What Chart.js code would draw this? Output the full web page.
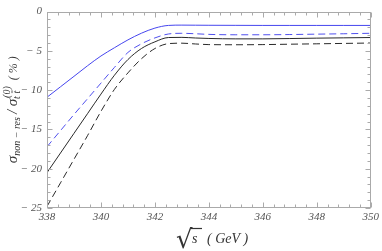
<!DOCTYPE html>
<html>
<head>
<meta charset="utf-8">
<script src="https://cdn.jsdelivr.net/npm/chart.js@4.4.1/dist/chart.umd.min.js"></script>
<style>
  html, body { margin: 0; padding: 0; background: #fff; }
  #wrap { position: relative; width: 382px; height: 251px; }
</style>
</head>
<body>
<div id="wrap"><canvas id="c" width="382" height="251"></canvas></div>
<script>
// ---- data ----
const energies   = [338, 338.5, 339, 339.5, 340, 340.5, 341, 341.5, 342, 342.5, 343, 343.5, 344, 345, 346, 347, 348, 349, 350];
const blueSolid  = [-10.9, -9.57, -8.24, -6.9, -5.65, -4.6, -3.6, -2.75, -2.1, -1.76, -1.72, -1.73, -1.74, -1.75, -1.76, -1.76, -1.76, -1.76, -1.76];
const blueDashed = [-17.2, -15.15, -13.1, -11.1, -9.1, -7.1, -5.2, -4.1, -3.35, -2.85, -2.76, -2.82, -2.9, -2.95, -2.95, -2.92, -2.87, -2.82, -2.76];
const blackSolid = [-20.5, -18.0, -15.5, -13.0, -10.5, -8.1, -6.1, -4.7, -3.85, -3.3, -3.28, -3.36, -3.42, -3.47, -3.47, -3.43, -3.38, -3.34, -3.3];
const blackDashed= [-24.8, -21.8, -18.8, -15.8, -12.7, -9.9, -7.8, -6.0, -4.7, -4.08, -4.02, -4.12, -4.2, -4.22, -4.2, -4.15, -4.1, -4.05, -4.0];
const xTicks = [338, 340, 342, 344, 346, 348, 350];
const yTicks = [0, -5, -10, -15, -20, -25];

const pts = arr => arr.map((v, i) => ({ x: energies[i], y: v }));

const labelFont = { family: "'Liberation Serif', 'DejaVu Serif', serif", size: 11, style: 'italic' };

const frameTicks = {
  id: 'frameTicks',
  afterDraw(chart) {
    const { ctx, chartArea: a, scales: { x, y } } = chart;
    ctx.save();
    ctx.strokeStyle = '#aaa';
    ctx.lineWidth = 1;
    const L = Math.round(a.left) + 0.5, R = Math.round(a.right) - 0.5;
    const T = Math.round(a.top) + 0.5, B = Math.round(a.bottom) - 0.5;
    ctx.strokeRect(L, T, R - L, B - T);
    ctx.beginPath();
    for (let i = 0; i <= 30; i++) {
      const v = 338 + i * 0.4;
      const px = Math.round(x.getPixelForValue(v)) + 0.5;
      const len = (i % 5 === 0) ? 5 : 3;
      ctx.moveTo(px, B); ctx.lineTo(px, B - len);
      ctx.moveTo(px, T); ctx.lineTo(px, T + len);
    }
    for (let j = 0; j <= 25; j++) {
      const v = -25 + j;
      const py = Math.round(y.getPixelForValue(v)) + 0.5;
      const len = (j % 5 === 0) ? 5 : 3;
      ctx.moveTo(L, py); ctx.lineTo(L + len, py);
      ctx.moveTo(R, py); ctx.lineTo(R - len, py);
    }
    ctx.stroke();
    ctx.restore();
  }
};

function measureRich(ctx, segs) {
  let w = 0;
  segs.forEach(s => {
    ctx.font = (s.italic ? 'italic ' : '') + s.size + "px 'Liberation Serif', 'DejaVu Serif', serif";
    s.w = ctx.measureText(s.text).width + (s.gap || 0);
    if (!s.back) w += s.w;
  });
  return w;
}

const axisTitles = {
  id: 'axisTitles',
  afterDraw(chart) {
    const { ctx } = chart;
    ctx.save();
    ctx.fillStyle = '#333';
    ctx.strokeStyle = '#333';
    // Y title (rotated)
    const segs = [
      { text: 'σ', size: 15, italic: true, dy: 0 },
      { text: 'non − res', size: 10, italic: true, dy: 3 },
      { text: ' / ', size: 14, italic: true, dy: 0 },
      { text: 'σ', size: 15, italic: true, dy: 0 },
      { text: 't t', size: 10, italic: true, dy: 3, bar: true },
      { text: '(0)', size: 10, italic: true, dy: -7, back: true },
      { text: '  ( % )', size: 12, italic: true, dy: 0 }
    ];
    const total = measureRich(ctx, segs);
    ctx.translate(17, 112);
    ctx.rotate(-Math.PI / 2);
    let cx = -total / 2;
    let lastStart = 0;
    segs.forEach(s => {
      ctx.font = (s.italic ? 'italic ' : '') + s.size + "px 'Liberation Serif', 'DejaVu Serif', serif";
      ctx.textBaseline = 'alphabetic';
      let startX = s.back ? lastStart + 1 : cx;
      ctx.fillText(s.text, startX, s.dy);
      if (s.bar) {
        const tw = ctx.measureText('t').width;
        const full = ctx.measureText(s.text).width;
        ctx.beginPath();
        ctx.lineWidth = 0.8;
        ctx.moveTo(startX + full - tw + 0.5, s.dy - 8);
        ctx.lineTo(startX + full + 0.5, s.dy - 8);
        ctx.stroke();
      }
      if (s.back) {
        cx = Math.max(cx, startX + s.w);
      } else {
        lastStart = cx;
        cx += s.w;
      }
    });
    ctx.restore();

    // X title: sqrt(s) (GeV)
    ctx.save();
    ctx.fillStyle = '#333';
    ctx.strokeStyle = '#333';
    ctx.textBaseline = 'alphabetic';
    ctx.font = "26px 'DejaVu Serif', serif";
    ctx.fillText('√', 176, 248);
    ctx.beginPath();
    ctx.lineWidth = 1.2;
    ctx.moveTo(191, 228.5);
    ctx.lineTo(202, 228.5);
    ctx.stroke();
    ctx.font = "italic 14px 'Liberation Serif', serif";
    ctx.fillText('s', 192, 243);
    ctx.fillText('( GeV )', 207, 243);
    ctx.restore();
  }
};

new Chart(document.getElementById('c'), {
  type: 'line',
  data: {
    datasets: [
      { data: pts(blueSolid),  borderColor: '#4646ee', borderWidth: 1, pointRadius: 0, fill: false, cubicInterpolationMode: 'monotone' },
      { data: pts(blueDashed), borderColor: '#5050ee', borderWidth: 1, borderDash: [7, 4], pointRadius: 0, fill: false, cubicInterpolationMode: 'monotone' },
      { data: pts(blackSolid), borderColor: '#2a2a2a', borderWidth: 1, pointRadius: 0, fill: false, cubicInterpolationMode: 'monotone' },
      { data: pts(blackDashed),borderColor: '#2a2a2a', borderWidth: 1, borderDash: [7, 4], pointRadius: 0, fill: false, cubicInterpolationMode: 'monotone' }
    ]
  },
  options: {
    responsive: false,
    animation: false,
    devicePixelRatio: 1,
    layout: { padding: { left: 0, top: 6, right: 9, bottom: 0 } },
    plugins: { legend: { display: false }, tooltip: { enabled: false } },
    scales: {
      x: {
        type: 'linear', min: 338, max: 350,
        afterFit(s) { s.height = 43; },
        afterBuildTicks(s) { s.ticks = xTicks.map(v => ({ value: v })); },
        grid: { display: false, drawTicks: false },
        border: { display: false },
        ticks: { color: '#555', font: labelFont, padding: 3, maxRotation: 0 }
      },
      y: {
        type: 'linear', min: -25, max: 0,
        afterFit(s) { s.width = 47; },
        afterBuildTicks(s) { s.ticks = yTicks.map(v => ({ value: v })); },
        grid: { display: false, drawTicks: false },
        border: { display: false },
        ticks: {
          color: '#555', font: labelFont, padding: 5,
          callback: v => v === 0 ? '0' : '\u2212 ' + Math.abs(v)
        }
      }
    }
  },
  plugins: [frameTicks, axisTitles]
});
</script>
</body>
</html>
